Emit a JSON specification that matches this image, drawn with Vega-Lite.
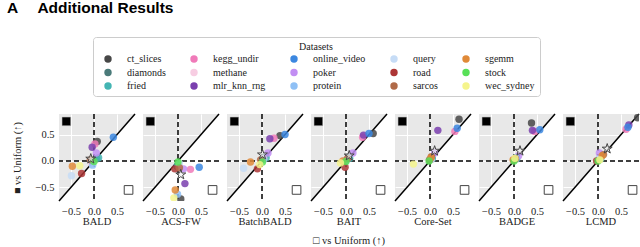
{
  "$schema": "https://vega.github.io/schema/vega-lite/v6.json",
  "padding": {"left": 6, "right": 1, "top": 1, "bottom": 0},
  "background": "white",
  "bounds": "flush",
  "title": {"text": "A\u2003 Additional Results", "anchor": "start", "frame": "bounds", "font": "Liberation Sans", "fontSize": 15.5, "fontWeight": "bold", "color": "black", "dx": -6, "offset": 20},
  "data": {"values": [
    {"m":"BALD","k":"pt","d":"ct_slices","x":0.07,"y":0.37},
    {"m":"BALD","k":"pt","d":"diamonds","x":0.06,"y":0.04},
    {"m":"BALD","k":"pt","d":"fried","x":0.1,"y":0.06},
    {"m":"BALD","k":"pt","d":"kegg_undir","x":0.02,"y":0.32},
    {"m":"BALD","k":"pt","d":"methane","x":-0.05,"y":-0.05},
    {"m":"BALD","k":"pt","d":"mlr_knn_rng","x":-0.04,"y":0.26},
    {"m":"BALD","k":"pt","d":"online_video","x":0.42,"y":0.45},
    {"m":"BALD","k":"pt","d":"poker","x":0.05,"y":0.15},
    {"m":"BALD","k":"pt","d":"protein","x":-0.03,"y":-0.08},
    {"m":"BALD","k":"pt","d":"query","x":-0.49,"y":-0.28},
    {"m":"BALD","k":"pt","d":"road","x":-0.27,"y":-0.24},
    {"m":"BALD","k":"pt","d":"sarcos","x":-0.08,"y":0.02},
    {"m":"BALD","k":"pt","d":"sgemm","x":-0.47,"y":-0.1},
    {"m":"BALD","k":"pt","d":"stock","x":0.0,"y":-0.01},
    {"m":"BALD","k":"pt","d":"wec_sydney","x":-0.31,"y":-0.09},
    {"m":"ACS-FW","k":"pt","d":"ct_slices","x":0.06,"y":-0.72},
    {"m":"ACS-FW","k":"pt","d":"diamonds","x":-0.02,"y":-0.1},
    {"m":"ACS-FW","k":"pt","d":"fried","x":0.0,"y":-0.08},
    {"m":"ACS-FW","k":"pt","d":"kegg_undir","x":0.27,"y":-0.16},
    {"m":"ACS-FW","k":"pt","d":"methane","x":0.02,"y":-0.12},
    {"m":"ACS-FW","k":"pt","d":"mlr_knn_rng","x":0.15,"y":-0.43},
    {"m":"ACS-FW","k":"pt","d":"online_video","x":0.46,"y":-0.12},
    {"m":"ACS-FW","k":"pt","d":"poker","x":0.12,"y":-0.15},
    {"m":"ACS-FW","k":"pt","d":"protein","x":-0.01,"y":-0.63},
    {"m":"ACS-FW","k":"pt","d":"query","x":0.03,"y":-0.05},
    {"m":"ACS-FW","k":"pt","d":"road","x":-0.07,"y":-0.15},
    {"m":"ACS-FW","k":"pt","d":"sarcos","x":0.03,"y":-0.13},
    {"m":"ACS-FW","k":"pt","d":"sgemm","x":-0.06,"y":-0.55},
    {"m":"ACS-FW","k":"pt","d":"stock","x":0.0,"y":-0.02},
    {"m":"ACS-FW","k":"pt","d":"wec_sydney","x":-0.09,"y":-0.7},
    {"m":"BatchBALD","k":"pt","d":"ct_slices","x":0.39,"y":0.48},
    {"m":"BatchBALD","k":"pt","d":"diamonds","x":0.06,"y":0.08},
    {"m":"BatchBALD","k":"pt","d":"fried","x":0.09,"y":0.06},
    {"m":"BatchBALD","k":"pt","d":"kegg_undir","x":0.26,"y":0.43},
    {"m":"BatchBALD","k":"pt","d":"methane","x":0.04,"y":0.04},
    {"m":"BatchBALD","k":"pt","d":"mlr_knn_rng","x":0.17,"y":0.42},
    {"m":"BatchBALD","k":"pt","d":"online_video","x":0.5,"y":0.5},
    {"m":"BatchBALD","k":"pt","d":"poker","x":0.13,"y":0.15},
    {"m":"BatchBALD","k":"pt","d":"protein","x":0.03,"y":0.02},
    {"m":"BatchBALD","k":"pt","d":"query","x":-0.4,"y":-0.14},
    {"m":"BatchBALD","k":"pt","d":"road","x":-0.1,"y":-0.15},
    {"m":"BatchBALD","k":"pt","d":"sarcos","x":-0.03,"y":0.02},
    {"m":"BatchBALD","k":"pt","d":"sgemm","x":-0.25,"y":-0.02},
    {"m":"BatchBALD","k":"pt","d":"stock","x":0.01,"y":-0.02},
    {"m":"BatchBALD","k":"pt","d":"wec_sydney","x":-0.05,"y":-0.07},
    {"m":"BAIT","k":"pt","d":"ct_slices","x":0.59,"y":0.52},
    {"m":"BAIT","k":"pt","d":"diamonds","x":0.06,"y":0.06},
    {"m":"BAIT","k":"pt","d":"fried","x":0.08,"y":0.05},
    {"m":"BAIT","k":"pt","d":"kegg_undir","x":0.36,"y":0.45},
    {"m":"BAIT","k":"pt","d":"methane","x":0.02,"y":0.03},
    {"m":"BAIT","k":"pt","d":"mlr_knn_rng","x":0.38,"y":0.49},
    {"m":"BAIT","k":"pt","d":"online_video","x":0.5,"y":0.52},
    {"m":"BAIT","k":"pt","d":"poker","x":0.15,"y":0.15},
    {"m":"BAIT","k":"pt","d":"protein","x":0.0,"y":0.01},
    {"m":"BAIT","k":"pt","d":"query","x":-0.05,"y":0.0},
    {"m":"BAIT","k":"pt","d":"road","x":-0.02,"y":-0.12},
    {"m":"BAIT","k":"pt","d":"sarcos","x":0.03,"y":0.04},
    {"m":"BAIT","k":"pt","d":"sgemm","x":-0.07,"y":0.0},
    {"m":"BAIT","k":"pt","d":"stock","x":0.0,"y":-0.01},
    {"m":"BAIT","k":"pt","d":"wec_sydney","x":-0.12,"y":-0.04},
    {"m":"Core-Set","k":"pt","d":"ct_slices","x":0.63,"y":0.79},
    {"m":"Core-Set","k":"pt","d":"diamonds","x":0.04,"y":0.05},
    {"m":"Core-Set","k":"pt","d":"fried","x":0.05,"y":0.04},
    {"m":"Core-Set","k":"pt","d":"kegg_undir","x":0.54,"y":0.56},
    {"m":"Core-Set","k":"pt","d":"methane","x":0.03,"y":0.03},
    {"m":"Core-Set","k":"pt","d":"mlr_knn_rng","x":0.17,"y":0.58},
    {"m":"Core-Set","k":"pt","d":"online_video","x":0.59,"y":0.62},
    {"m":"Core-Set","k":"pt","d":"poker","x":0.1,"y":0.15},
    {"m":"Core-Set","k":"pt","d":"protein","x":0.02,"y":0.04},
    {"m":"Core-Set","k":"pt","d":"query","x":0.0,"y":0.02},
    {"m":"Core-Set","k":"pt","d":"road","x":-0.01,"y":0.02},
    {"m":"Core-Set","k":"pt","d":"sarcos","x":0.03,"y":0.08},
    {"m":"Core-Set","k":"pt","d":"sgemm","x":0.02,"y":0.06},
    {"m":"Core-Set","k":"pt","d":"stock","x":-0.02,"y":0.0},
    {"m":"Core-Set","k":"pt","d":"wec_sydney","x":-0.36,"y":-0.06},
    {"m":"BADGE","k":"pt","d":"ct_slices","x":0.38,"y":0.72},
    {"m":"BADGE","k":"pt","d":"diamonds","x":0.05,"y":0.05},
    {"m":"BADGE","k":"pt","d":"fried","x":0.06,"y":0.04},
    {"m":"BADGE","k":"pt","d":"kegg_undir","x":0.45,"y":0.56},
    {"m":"BADGE","k":"pt","d":"methane","x":0.03,"y":0.03},
    {"m":"BADGE","k":"pt","d":"mlr_knn_rng","x":0.4,"y":0.58},
    {"m":"BADGE","k":"pt","d":"online_video","x":0.56,"y":0.59},
    {"m":"BADGE","k":"pt","d":"poker","x":0.1,"y":0.1},
    {"m":"BADGE","k":"pt","d":"protein","x":0.04,"y":0.06},
    {"m":"BADGE","k":"pt","d":"query","x":0.02,"y":0.03},
    {"m":"BADGE","k":"pt","d":"road","x":0.0,"y":0.02},
    {"m":"BADGE","k":"pt","d":"sarcos","x":0.03,"y":0.04},
    {"m":"BADGE","k":"pt","d":"sgemm","x":-0.02,"y":0.02},
    {"m":"BADGE","k":"pt","d":"stock","x":0.0,"y":0.0},
    {"m":"BADGE","k":"pt","d":"wec_sydney","x":0.02,"y":0.05},
    {"m":"LCMD","k":"pt","d":"ct_slices","x":0.86,"y":0.82},
    {"m":"LCMD","k":"pt","d":"diamonds","x":0.05,"y":0.05},
    {"m":"LCMD","k":"pt","d":"fried","x":0.06,"y":0.04},
    {"m":"LCMD","k":"pt","d":"kegg_undir","x":0.61,"y":0.6},
    {"m":"LCMD","k":"pt","d":"methane","x":0.04,"y":0.05},
    {"m":"LCMD","k":"pt","d":"mlr_knn_rng","x":0.67,"y":0.68},
    {"m":"LCMD","k":"pt","d":"online_video","x":0.65,"y":0.64},
    {"m":"LCMD","k":"pt","d":"poker","x":0.03,"y":0.15},
    {"m":"LCMD","k":"pt","d":"protein","x":0.03,"y":0.04},
    {"m":"LCMD","k":"pt","d":"query","x":0.02,"y":0.03},
    {"m":"LCMD","k":"pt","d":"road","x":-0.03,"y":0.0},
    {"m":"LCMD","k":"pt","d":"sarcos","x":0.12,"y":0.12},
    {"m":"LCMD","k":"pt","d":"sgemm","x":0.09,"y":0.1},
    {"m":"LCMD","k":"pt","d":"stock","x":0.0,"y":0.0},
    {"m":"LCMD","k":"pt","d":"wec_sydney","x":0.04,"y":0.02},
    {"m":"BALD","k":"star","x":-0.07,"y":0.04},
    {"m":"ACS-FW","k":"star","x":0.06,"y":-0.26},
    {"m":"BatchBALD","k":"star","x":0.01,"y":0.12},
    {"m":"BAIT","k":"star","x":0.07,"y":0.1},
    {"m":"Core-Set","k":"star","x":0.1,"y":0.19},
    {"m":"BADGE","k":"star","x":0.13,"y":0.19},
    {"m":"LCMD","k":"star","x":0.2,"y":0.23},
    {"m":"BALD","k":"diag","x":-0.76,"y":-0.76},
    {"m":"BALD","k":"diag","x":0.89,"y":0.89},
    {"m":"ACS-FW","k":"diag","x":-0.76,"y":-0.76},
    {"m":"ACS-FW","k":"diag","x":0.89,"y":0.89},
    {"m":"BatchBALD","k":"diag","x":-0.76,"y":-0.76},
    {"m":"BatchBALD","k":"diag","x":0.89,"y":0.89},
    {"m":"BAIT","k":"diag","x":-0.76,"y":-0.76},
    {"m":"BAIT","k":"diag","x":0.89,"y":0.89},
    {"m":"Core-Set","k":"diag","x":-0.76,"y":-0.76},
    {"m":"Core-Set","k":"diag","x":0.89,"y":0.89},
    {"m":"BADGE","k":"diag","x":-0.76,"y":-0.76},
    {"m":"BADGE","k":"diag","x":0.89,"y":0.89},
    {"m":"LCMD","k":"diag","x":-0.76,"y":-0.76},
    {"m":"LCMD","k":"diag","x":0.89,"y":0.89},
    {"m":"BALD","k":"sq1","x":-0.6,"y":0.75},
    {"m":"ACS-FW","k":"sq1","x":-0.6,"y":0.75},
    {"m":"BatchBALD","k":"sq1","x":-0.6,"y":0.75},
    {"m":"BAIT","k":"sq1","x":-0.6,"y":0.75},
    {"m":"Core-Set","k":"sq1","x":-0.6,"y":0.75},
    {"m":"BADGE","k":"sq1","x":-0.6,"y":0.75},
    {"m":"LCMD","k":"sq1","x":-0.6,"y":0.75},
    {"m":"BALD","k":"sq0","x":0.75,"y":-0.55},
    {"m":"ACS-FW","k":"sq0","x":0.75,"y":-0.55},
    {"m":"BatchBALD","k":"sq0","x":0.75,"y":-0.55},
    {"m":"BAIT","k":"sq0","x":0.75,"y":-0.55},
    {"m":"Core-Set","k":"sq0","x":0.75,"y":-0.55},
    {"m":"BADGE","k":"sq0","x":0.75,"y":-0.55},
    {"m":"LCMD","k":"sq0","x":0.75,"y":-0.55}
  ]},
  "facet": {
    "column": {
      "field": "m", "type": "nominal",
      "sort": ["BALD", "ACS-FW", "BatchBALD", "BAIT", "Core-Set", "BADGE", "LCMD"],
      "title": "\u25a1 vs Uniform (\u2191)",
      "header": {"labelOrient": "bottom", "titleOrient": "bottom"}
    }
  },
  "spacing": 8,
  "spec": {
    "width": 76,
    "height": 87,
    "encoding": {
      "x": {"field": "x", "type": "quantitative", "title": null, "scale": {"domain": [-0.76, 0.89], "nice": false, "zero": false},
        "axis": {"values": [-0.5, 0, 0.5], "format": ".1f", "labelOverlap": false, "labelFlush": false, "labelBound": false}},
      "y": {"field": "y", "type": "quantitative", "title": "\u25a0 vs Uniform (\u2191)", "scale": {"domain": [-0.76, 0.89], "nice": false, "zero": false},
        "axis": {"values": [-0.5, 0, 0.5], "format": ".1f", "labelOverlap": false}}
    },
    "layer": [
      {
        "transform": [{"filter": "datum.k == 'diag'"}],
        "mark": {"type": "area", "color": "white", "opacity": 1},
        "encoding": {"y2": {"datum": -0.76}}
      },
      {
        "transform": [{"filter": "datum.k == 'star'"}],
        "mark": {"type": "rule", "color": "black", "strokeWidth": 1.5, "strokeDash": [5, 3]},
        "encoding": {"x": {"datum": 0}, "y": null}
      },
      {
        "transform": [{"filter": "datum.k == 'star'"}],
        "mark": {"type": "rule", "color": "black", "strokeWidth": 1.5, "strokeDash": [5, 3]},
        "encoding": {"y": {"datum": 0}, "x": null}
      },
      {
        "transform": [{"filter": "datum.k == 'diag'"}],
        "mark": {"type": "line", "color": "black", "strokeWidth": 1.5},
        "encoding": {}
      },
      {
        "transform": [{"filter": "datum.k == 'pt'"}],
        "mark": {"type": "circle", "size": 55, "opacity": 0.85, "clip": true},
        "encoding": {
          "color": {
            "field": "d", "type": "nominal",
            "scale": {
              "domain": ["ct_slices", "diamonds", "fried", "kegg_undir", "methane", "mlr_knn_rng", "online_video", "poker", "protein", "query", "road", "sarcos", "sgemm", "stock", "wec_sydney"],
              "range": ["#474747", "#4b7b7a", "#44b5b3", "#f07ab9", "#f7cde2", "#7a3fae", "#3b87e0", "#c28ef3", "#8fc0f5", "#c6dcf6", "#ad3636", "#b06a48", "#e08a38", "#58e058", "#f5f48c"]
            },
            "legend": {
              "title": "Datasets", "orient": "none", "legendX": 34, "legendY": -77, "columns": 5
            }
          }
        }
      },
      {
        "transform": [{"filter": "datum.k == 'star'"}],
        "mark": {"type": "point", "shape": "M0,-1L0.2245,-0.309L0.951,-0.309L0.363,0.118L0.588,0.809L0,0.382L-0.588,0.809L-0.363,0.118L-0.951,-0.309L-0.2245,-0.309Z", "filled": true, "fill": "#f2f2f2", "fillOpacity": 0.6, "stroke": "#444444", "strokeWidth": 1, "size": 110, "opacity": 1}
      },
      {
        "transform": [{"filter": "datum.k == 'sq1'"}],
        "mark": {"type": "point", "shape": "square", "filled": true, "fill": "black", "stroke": "#bbbbbb", "strokeWidth": 0.5, "size": 75, "opacity": 1}
      },
      {
        "transform": [{"filter": "datum.k == 'sq0'"}],
        "mark": {"type": "point", "shape": "square", "filled": true, "fill": "white", "stroke": "#444444", "strokeWidth": 1, "size": 75, "opacity": 1}
      }
    ]
  },
  "config": {
    "view": {"fill": "#e8e8e8", "stroke": null},
    "font": "Liberation Serif",
    "axis": {
      "domain": false, "ticks": false, "grid": true, "gridColor": "white", "gridWidth": 1,
      "labelFont": "Liberation Serif", "labelFontSize": 10.5, "labelColor": "#222222", "labelPadding": 5,
      "titleFont": "Liberation Serif", "titleFontSize": 10.5, "titleFontWeight": "normal", "titleColor": "#222222", "titlePadding": 12
    },
    "axisX": {"labelPadding": 5},
    "header": {
      "labelFont": "Liberation Serif", "labelFontSize": 10.5, "labelColor": "#222222", "labelPadding": 0,
      "titleFont": "Liberation Serif", "titleFontSize": 10.5, "titleFontWeight": "normal", "titleColor": "#222222", "titlePadding": -1
    },
    "legend": {
      "titleAnchor": "middle", "titleFont": "Liberation Serif", "titleFontSize": 10, "titleFontWeight": "normal", "titleColor": "#222222", "titlePadding": 2,
      "labelFont": "Liberation Serif", "labelFontSize": 10, "labelColor": "#222222", "labelOffset": 14,
      "symbolType": "circle", "symbolSize": 55, "symbolStrokeWidth": 0, "symbolOpacity": 1, "symbolOffset": 5,
      "columnPadding": 18, "rowPadding": 3.5,
      "padding": 5, "strokeColor": "#cccccc", "cornerRadius": 3, "fillColor": "white"
    }
  }
}
